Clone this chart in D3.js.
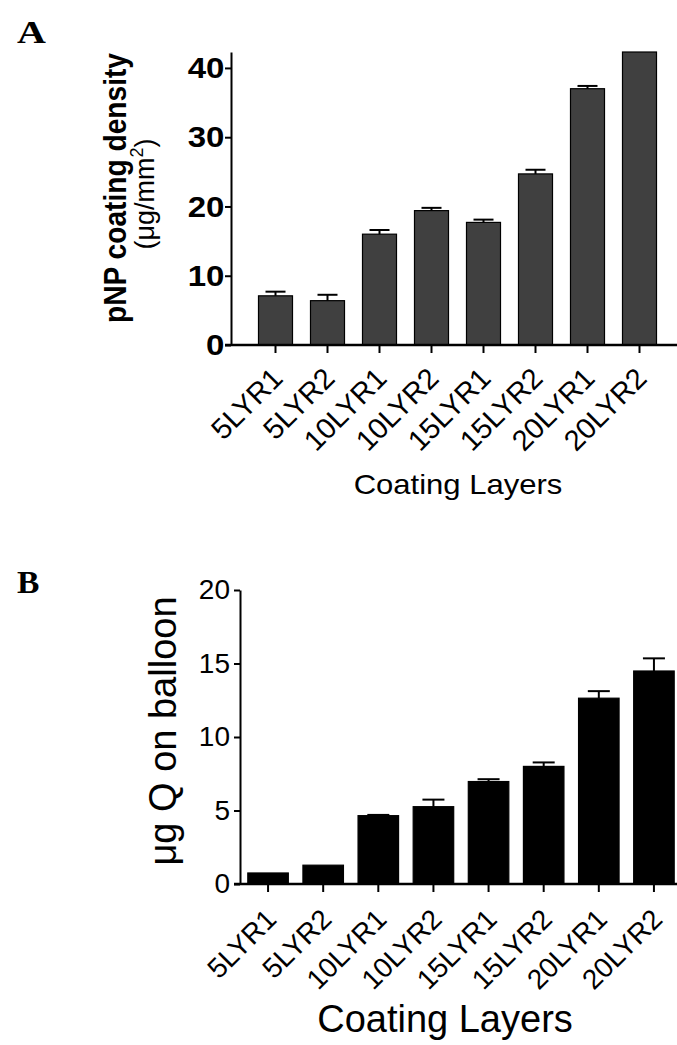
<!DOCTYPE html>
<html>
<head>
<meta charset="utf-8">
<script src="https://cdn.jsdelivr.net/npm/d3@7"></script>
<style>
  body { margin: 0; background: #fff; }
  svg { display: block; }
</style>
</head>
<body>
<div id="chart"></div>
<script>
const categories = ["5LYR1", "5LYR2", "10LYR1", "10LYR2", "15LYR1", "15LYR2", "20LYR1", "20LYR2"];

// panel A: pNP coating density (ug/mm2)
const densityMean = [7.1, 6.4, 16.0, 19.4, 17.7, 24.7, 37.0, 42.3];
const densityErr = [0.6, 0.85, 0.6, 0.4, 0.4, 0.6, 0.4, 0];
const densityTicks = [0, 10, 20, 30, 40];

// panel B: ug Q on balloon
const balloonMean = [0.75, 1.28, 4.65, 5.26, 6.97, 8.0, 12.64, 14.49];
const balloonErr = [0, 0, 0.05, 0.48, 0.16, 0.27, 0.48, 0.86];
const balloonTicks = [0, 5, 10, 15, 20];

const width = 677;
const height = 1045;
const sans = "'Liberation Sans', Arial, sans-serif";

const svg = d3.select("#chart")
    .append("svg")
    .attr("width", width)
    .attr("height", height)
    .style("background", "#fff");

function drawPanel(opt) {
    const g = svg.append("g");
    const data = categories.map((c, i) => ({ cat: c, v: opt.mean[i], e: opt.err[i] }));

    const x = d3.scaleBand()
        .domain(categories)
        .range(opt.xRange)
        .paddingInner(opt.pad)
        .paddingOuter(opt.pad / 2);

    const y = d3.scaleLinear()
        .domain(opt.yDomain)
        .range([opt.y0, opt.yTop]);

    // bars
    g.selectAll(".bar")
        .data(data)
        .enter().append("rect")
        .attr("class", "bar")
        .attr("x", d => x(d.cat))
        .attr("y", d => y(d.v))
        .attr("width", x.bandwidth())
        .attr("height", d => y(0) - y(d.v))
        .attr("fill", opt.fill)
        .attr("stroke", "#000")
        .attr("stroke-width", 1.2);

    // upper error bars only
    const eb = g.selectAll(".err")
        .data(data.filter(d => d.e > 0))
        .enter().append("g")
        .attr("class", "err");
    eb.append("line")
        .attr("x1", d => x(d.cat) + x.bandwidth() / 2)
        .attr("x2", d => x(d.cat) + x.bandwidth() / 2)
        .attr("y1", d => y(d.v))
        .attr("y2", d => y(d.v + d.e))
        .attr("stroke", "#000").attr("stroke-width", 2);
    eb.append("line")
        .attr("x1", d => x(d.cat) + x.bandwidth() / 2 - opt.cap / 2)
        .attr("x2", d => x(d.cat) + x.bandwidth() / 2 + opt.cap / 2)
        .attr("y1", d => y(d.v + d.e))
        .attr("y2", d => y(d.v + d.e))
        .attr("stroke", "#000").attr("stroke-width", 2);

    // y axis
    const yAxis = g.append("g")
        .attr("transform", `translate(${opt.yAxisX},0)`)
        .call(d3.axisLeft(y).tickValues(opt.ticks).tickSize(6).tickSizeOuter(0).tickPadding(opt.tickPad));
    yAxis.select(".domain").attr("stroke-width", 2);
    yAxis.selectAll(".tick line").attr("stroke-width", 2);
    yAxis.selectAll(".tick text")
        .attr("fill", "#000")
        .attr("transform", `scale(${opt.tickStretch},1)`)
        .style("font-family", sans)
        .style("font-size", opt.tickFont + "px")
        .style("font-weight", opt.tickWeight);

    // x axis line, runs past the y axis like the original
    g.append("line")
        .attr("x1", opt.yAxisX - 6)
        .attr("x2", width)
        .attr("y1", y(0))
        .attr("y2", y(0))
        .attr("stroke", "#000")
        .attr("stroke-width", 2.5);

    const xAxis = g.append("g")
        .attr("transform", `translate(0,${y(0)})`)
        .call(d3.axisBottom(x).tickSize(8).tickSizeOuter(0));
    xAxis.select(".domain").remove();
    xAxis.selectAll(".tick line").attr("stroke-width", 2);
    xAxis.selectAll(".tick text")
        .attr("fill", "#000")
        .attr("y", 0)
        .attr("dy", 0)
        .attr("text-anchor", "end")
        .attr("transform", `translate(${opt.labDx},${opt.labDy}) rotate(-45)`)
        .style("font-family", sans)
        .style("font-size", opt.labFont + "px");

    // x title
    g.append("text")
        .attr("transform", `translate(${opt.xTitleX},${opt.xTitleY}) scale(${opt.titleStretch},1)`)
        .attr("text-anchor", "middle")
        .style("font-family", sans)
        .style("font-size", opt.xTitleFont + "px")
        .text("Coating Layers");

    // panel letter
    svg.append("text")
        .attr("transform", `translate(17,${opt.letterY}) scale(${opt.letterStretch},1)`)
        .style("font-family", "'Liberation Serif', 'DejaVu Serif', serif")
        .style("font-weight", "bold")
        .style("font-size", "32px")
        .text(opt.letter);

    return g;
}

const gA = drawPanel({
    mean: densityMean, err: densityErr, ticks: densityTicks,
    xRange: [249.5, 665.5], pad: 0.346,
    yDomain: [0, 42.3], y0: 345, yTop: 52,
    yAxisX: 231, fill: "#404040", cap: 20,
    tickFont: 30, tickWeight: "bold", tickPad: 0, tickStretch: 1.1,
    labFont: 29, labDx: 9, labDy: 35,
    xTitleX: 458, xTitleY: 494, xTitleFont: 27, titleStretch: 1.15,
    letter: "A", letterY: 43, letterStretch: 1.25
});

// A y label (two lines)
gA.append("text")
    .attr("transform", "translate(126,188) rotate(-90)")
    .attr("text-anchor", "middle")
    .attr("textLength", 270)
    .attr("lengthAdjust", "spacingAndGlyphs")
    .style("font-family", sans)
    .style("font-size", "31px")
    .style("font-weight", "bold")
    .text("pNP coating density");

const unitA = gA.append("text")
    .attr("transform", "translate(154,194) rotate(-90)")
    .attr("text-anchor", "middle")
    .style("font-family", sans)
    .style("font-size", "27px");
unitA.append("tspan").text("(\u03bcg/mm");
unitA.append("tspan").attr("dy", -11).style("font-size", "18px").text("2");
unitA.append("tspan").attr("dy", 11).text(")");

const gB = drawPanel({
    mean: balloonMean, err: balloonErr, ticks: balloonTicks,
    xRange: [240.5, 681.5], pad: 0.265,
    yDomain: [0, 20], y0: 884, yTop: 590,
    yAxisX: 240, fill: "#000", cap: 22,
    tickFont: 28, tickWeight: "normal", tickPad: 4, tickStretch: 1,
    labFont: 28, labDx: 10, labDy: 37,
    xTitleX: 445, xTitleY: 1032, xTitleFont: 38, titleStretch: 1,
    letter: "B", letterY: 593, letterStretch: 1.05
});

gB.append("text")
    .attr("transform", "translate(176,731) rotate(-90)")
    .attr("text-anchor", "middle")
    .style("font-family", sans)
    .style("font-size", "38px")
    .text("\u03bcg Q on balloon");
</script>
</body>
</html>
